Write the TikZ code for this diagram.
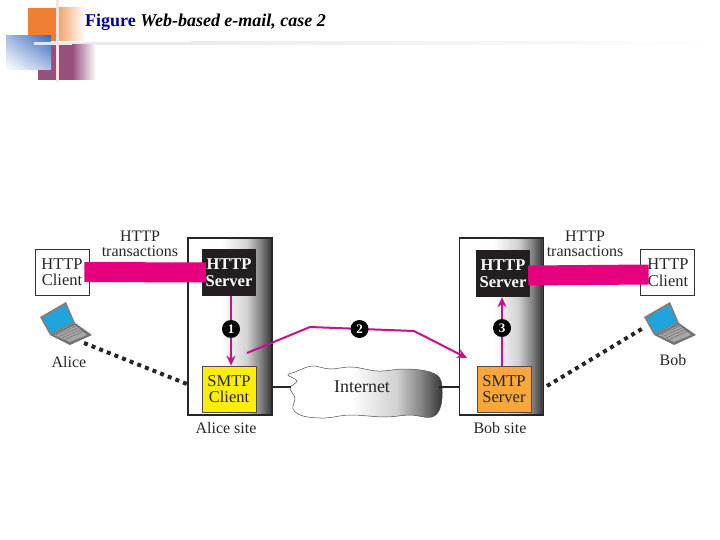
\documentclass[tikz,border=0pt]{standalone}
\usepackage{fontspec}
\setmainfont{Liberation Serif}
\usetikzlibrary{arrows.meta, shadings}
\definecolor{barpink}{HTML}{E6007E}
\definecolor{msgpink}{HTML}{C2128C}
\definecolor{smtpyellow}{HTML}{FFEE00}
\definecolor{smtporange}{HTML}{F9A63A}
\definecolor{darkbox}{HTML}{231F20}
\definecolor{titleblue}{HTML}{000099}
\definecolor{screenblue}{HTML}{1FA5DC}
\definecolor{cornerorange}{HTML}{EE7F33}
\definecolor{cornerpurple}{HTML}{96507A}
\definecolor{cornerblue}{HTML}{3B6BC0}
\pgfdeclarehorizontalshading{sitefade}{100bp}{color(0bp)=(white); color(45bp)=(white); color(60bp)=(black!18); color(68bp)=(black!48); color(75bp)=(black!80); color(100bp)=(black!80)}
\tikzstyle{site} = [rectangle, draw=black!85, line width=1.4pt, minimum width=84pt, minimum height=177pt, shading=sitefade]
\tikzstyle{client} = [rectangle, draw=black!80, line width=0.7pt, fill=white, minimum width=54pt, minimum height=46pt]
\tikzstyle{httpbox} = [rectangle, fill=darkbox, minimum width=54pt, minimum height=47pt]
\tikzstyle{smtpbox} = [rectangle, draw=black!70, line width=0.7pt, minimum width=54pt, minimum height=46pt]
\tikzstyle{boxtext} = [font=\fontsize{16.5}{16.5}\selectfont, align=center, inner sep=0pt, text=black!85]
\tikzstyle{sitelabel} = [font=\fontsize{16}{15}\selectfont, align=center, inner sep=0pt, text=black!85]
\tikzstyle{bar} = [line width=20pt, barpink]
\tikzstyle{msg} = [line width=2pt, msgpink, -{Stealth[length=10pt,width=9pt]}]
\tikzstyle{lan} = [line width=4pt, black!85, dash pattern=on 4pt off 4.2pt]
\tikzstyle{step1} = [circle, fill=black, text=white, minimum size=18pt, inner sep=0pt, font=\fontsize{13}{13}\selectfont\bfseries]
\tikzset{laptop/.pic={
  \fill[black!55] (10,33) -- (35,21) -- (52,33) -- (30,43) -- cycle;
  \fill[black!35] (14,33) -- (35,23) -- (47,33) -- (30,40) -- cycle;
  \foreach \r in {0,1,2,3}
    \draw[black!60, line width=0.4pt] (16+\r*3,33+\r*1.5) -- (36+\r*3,24+\r*1.5);
  \fill[black!50] (0,15) -- (26,0) -- (35,21) -- (10,33) -- cycle;
  \fill[screenblue] (3,16) -- (25,3) -- (33,20) -- (11,31) -- cycle;
}}

\begin{document}
\begin{tikzpicture}[x=1pt,y=-1pt]
\useasboundingbox (0,0) rectangle (720,540);

% slide corner
\fill[cornerorange] (28,8) rectangle (56,41);
\shade[left color=cornerorange!70!white, right color=white] (59,8) rectangle (85,41);
\fill[black!8] (34,42) rectangle (190,45);
\shade[left color=black!8, right color=white] (190,42) rectangle (720,45);
\fill[cornerpurple] (38,45) rectangle (72,80);
\shade[left color=cornerpurple, right color=white] (72,45) rectangle (96,80);
\shade[upper right=cornerblue, upper left=cornerblue!45!white, lower right=cornerblue!40!white, lower left=white] (6,36) rectangle (51,70);
\fill[white!88!red] (56,0) rectangle (59,82);
\fill[white!90!blue] (34,42) rectangle (60,45);
\node (title) [anchor=base west, inner sep=0pt, font=\fontsize{18}{18}\selectfont\bfseries] at (85,27) {\textcolor{titleblue}{Figure} \textit{Web-based e-mail, case 2}};

% sites
\node (alicesite) [site] at (230,326.5) {};
\node (bobsite) [site] at (501.5,326.5) {};
\node (aliceclient) [client] at (62,272) {};
\node (aliceserver) [httpbox] at (229,272.5) {};
\node (alicesmtp) [smtpbox, fill=smtpyellow] at (229,389) {};
\node (bobserver) [httpbox] at (503,273.5) {};
\node (bobsmtp) [smtpbox, fill=smtporange] at (504,389) {};
\node (bobclient) [client] at (667,272.5) {};

% internet
\draw[black!70, line width=0.5pt, shading=sitefade]
  plot[smooth cycle, tension=0.6] coordinates {(295,372) (312,366) (330,369) (352,367) (378,371) (405,369) (430,372) (441,381) (441,405) (432,417) (410,415) (385,417) (350,415) (325,418) (303,416) (293,409) (295,398) (290,388) (297,381) (288,375)};
\node (internet) [boxtext, font=\fontsize{18}{18}\selectfont, minimum width=154pt, minimum height=50pt] at (362,387) {Internet};
\draw[black!85, line width=1.2pt] (alicesite.east |- internet.west) -- ([xshift=6pt]internet.west);
\draw[black!85, line width=1.2pt] (internet.east) -- (bobsite.west |- internet.east);

% http links
\draw[bar] ([xshift=-5pt]aliceclient.east) -- ([xshift=4pt]aliceserver.west);
\draw[bar] ([xshift=-2pt,yshift=-2pt]bobserver.east) -- ([xshift=9pt,yshift=-2pt]bobclient.west);

\node (aliceclientname) [boxtext] at (aliceclient) {HTTP\\Client};
\node (bobclientname) [boxtext] at ([xshift=1pt]bobclient) {HTTP\\Client};
\node (aliceservername) [boxtext, text=white, font=\fontsize{16.5}{16.5}\selectfont\bfseries] at (aliceserver) {HTTP\\Server};
\node (bobservername) [boxtext, text=white, font=\fontsize{16.5}{16.5}\selectfont\bfseries] at (bobserver) {HTTP\\Server};
\node (alicesmtpname) [boxtext] at (alicesmtp) {SMTP\\Client};
\node (bobsmtpname) [boxtext] at (bobsmtp) {SMTP\\Server};

\node (alicehttp) [sitelabel] at (140,244) {HTTP\\transactions};
\node (bobhttp) [sitelabel] at (585,244) {HTTP\\transactions};
\node (alicename) [sitelabel] at (69,362) {Alice};
\node (bobname) [sitelabel] at (673,360) {Bob};
\node (alicesitename) [sitelabel] at (226,428) {Alice site};
\node (bobsitename) [sitelabel] at (500,428) {Bob site};

% laptops
\pic at (40,302) {laptop};
\pic at (644,302) {laptop};
\coordinate (alicepc) at (84,343);
\coordinate (alicelan) at (187,384);
\coordinate (bobpc) at (645,327);
\coordinate (boblan) at (547,386);
\draw[lan] (alicepc) -- (alicelan);
\draw[lan] (boblan) -- (bobpc);

% steps
\coordinate (hopa) at (247,353);
\coordinate (hopb) at (310,327);
\coordinate (hopc) at (414,331);
\coordinate (hopd) at (467,358);
\draw[msg] ([xshift=2pt]aliceserver.south) -- ([xshift=2pt]alicesmtp.north);
\draw[msg] (hopa) -- (hopb) -- (hopc) -- (hopd);
\draw[msg] ([xshift=-2pt]bobsmtp.north) -- ([xshift=-1pt]bobserver.south);
\node (stepa) [step1] at (231,329) {1};
\node (stepb) [step1] at (359.5,329) {2};
\node (stepc) [step1] at (502,328) {3};

\end{tikzpicture}
\end{document}
